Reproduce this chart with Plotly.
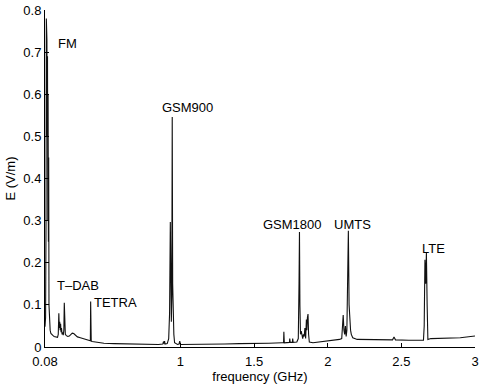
import plotly.graph_objects as go

# frequency (GHz) and field strength E (V/m)
freq = [
    0.080, 0.084, 0.087, 0.089, 0.091, 0.093, 0.095, 0.097, 0.099, 0.101,
    0.103, 0.105, 0.107, 0.110, 0.115, 0.120, 0.128, 0.135, 0.142, 0.150,
    0.158, 0.165, 0.170, 0.174, 0.177, 0.180, 0.183, 0.186, 0.189, 0.192,
    0.196, 0.200, 0.204, 0.208, 0.211, 0.213, 0.215, 0.218, 0.225, 0.235,
    0.245, 0.255, 0.265, 0.275, 0.285, 0.300, 0.320, 0.340, 0.360, 0.380,
    0.388, 0.390, 0.392, 0.394, 0.400, 0.430, 0.480, 0.550, 0.650, 0.750,
    0.850, 0.880, 0.885, 0.888, 0.892, 0.895, 0.910, 0.920, 0.926, 0.931,
    0.934, 0.938, 0.941, 0.944, 0.947, 0.950, 0.955, 0.960, 0.980, 0.990,
    0.995, 1.000, 1.100, 1.200, 1.300, 1.400, 1.500, 1.600, 1.690, 1.700,
    1.702, 1.705, 1.740, 1.742, 1.745, 1.760, 1.762, 1.765, 1.790, 1.800,
    1.805, 1.808, 1.811, 1.815, 1.820, 1.825, 1.830, 1.835, 1.840, 1.845,
    1.850, 1.855, 1.858, 1.862, 1.866, 1.870, 1.875, 1.900, 1.950, 2.000,
    2.050, 2.080, 2.095, 2.100, 2.105, 2.110, 2.115, 2.120, 2.125, 2.130,
    2.135, 2.140, 2.145, 2.150, 2.155, 2.160, 2.170, 2.200, 2.300, 2.400,
    2.440, 2.450, 2.460, 2.550, 2.600, 2.650, 2.655, 2.660, 2.665, 2.670,
    2.675, 2.680, 2.700, 2.800, 2.900, 3.000,
]
efield = [
    0.048, 0.070, 0.300, 0.780, 0.350, 0.730, 0.500, 0.690, 0.300, 0.600,
    0.250, 0.450, 0.100, 0.060, 0.040, 0.032, 0.028, 0.027, 0.025, 0.024,
    0.022, 0.023, 0.030, 0.080, 0.045, 0.060, 0.040, 0.055, 0.035, 0.045,
    0.030, 0.035, 0.028, 0.040, 0.105, 0.050, 0.070, 0.030, 0.027, 0.025,
    0.026, 0.030, 0.033, 0.032, 0.028, 0.024, 0.022, 0.020, 0.017, 0.015,
    0.015, 0.108, 0.060, 0.014, 0.013, 0.011, 0.009, 0.008, 0.007, 0.006,
    0.006, 0.007, 0.013, 0.008, 0.014, 0.007, 0.008, 0.020, 0.080, 0.297,
    0.100, 0.060, 0.120, 0.546, 0.150, 0.060, 0.030, 0.010, 0.006, 0.007,
    0.014, 0.006, 0.006, 0.007, 0.007, 0.008, 0.008, 0.009, 0.010, 0.010,
    0.036, 0.010, 0.011, 0.020, 0.011, 0.011, 0.020, 0.011, 0.012, 0.020,
    0.150, 0.273, 0.100, 0.030, 0.038, 0.022, 0.020, 0.030, 0.025, 0.045,
    0.020, 0.065, 0.040, 0.070, 0.078, 0.030, 0.012, 0.010, 0.012, 0.014,
    0.016, 0.018, 0.020, 0.060, 0.076, 0.040, 0.030, 0.050, 0.025, 0.040,
    0.150, 0.276, 0.100, 0.057, 0.040, 0.030, 0.022, 0.018, 0.017, 0.017,
    0.017, 0.024, 0.017, 0.016, 0.016, 0.016, 0.050, 0.207, 0.150, 0.223,
    0.100, 0.018, 0.020, 0.021, 0.022, 0.026,
]

x_ticks = [0.08, 1, 1.5, 2, 2.5, 3]
x_tick_labels = ["0.08", "1", "1.5", "2", "2.5", "3"]
y_ticks = [0, 0.1, 0.2, 0.3, 0.4, 0.5, 0.6, 0.7, 0.8]
y_tick_labels = ["0", "0.1", "0.2", "0.3", "0.4", "0.5", "0.6", "0.7", "0.8"]

band_names = ["FM", "T\u2013DAB", "TETRA", "GSM900", "GSM1800", "UMTS", "LTE"]
band_x = [0.155, 0.148, 0.399, 1.051, 1.764, 2.171, 2.721]
band_y = [0.72, 0.147, 0.105, 0.568, 0.292, 0.292, 0.235]
band_anchor = ["left", "left", "left", "center", "center", "center", "center"]

FONT = "Liberation Sans, Arial, Helvetica, sans-serif"

fig = go.Figure()
fig.add_trace(go.Scatter(
    x=freq, y=efield, mode="lines",
    line=dict(color="#111111", width=1.1),
    showlegend=False, hoverinfo="skip",
))

for name, bx, by, anc in zip(band_names, band_x, band_y, band_anchor):
    fig.add_annotation(
        x=bx, y=by, text=name, showarrow=False, xanchor=anc, yanchor="middle",
        font=dict(family=FONT, size=13, color="black"),
    )

axis_common = dict(
    showline=True, linecolor="black", linewidth=1, mirror=False,
    ticks="inside", ticklen=4, tickcolor="black", tickwidth=1,
    showgrid=False, zeroline=False, automargin=False,
    ticklabeloverflow="allow",
    tickfont=dict(family=FONT, size=13, color="black"),
)

fig.update_layout(
    width=480, height=385,
    margin=dict(l=45, r=5, t=10, b=38),
    paper_bgcolor="white", plot_bgcolor="white",
    xaxis=dict(
        range=[0.08, 3], tickmode="array", tickvals=x_ticks, ticktext=x_tick_labels,
        ticklabelstandoff=2,
        title=dict(text="frequency (GHz)", font=dict(family=FONT, size=13, color="black"), standoff=0),
        **axis_common,
    ),
    yaxis=dict(
        range=[0, 0.8], tickmode="array", tickvals=y_ticks, ticktext=y_tick_labels,
        title=dict(text="E (V/m)", font=dict(family=FONT, size=13, color="black"), standoff=4),
        **axis_common,
    ),
)

fig.write_html(
    "out.html",
    config={"displayModeBar": False, "staticPlot": True},
    post_script="document.body.style.margin='0';document.body.style.overflow='hidden';",
)
